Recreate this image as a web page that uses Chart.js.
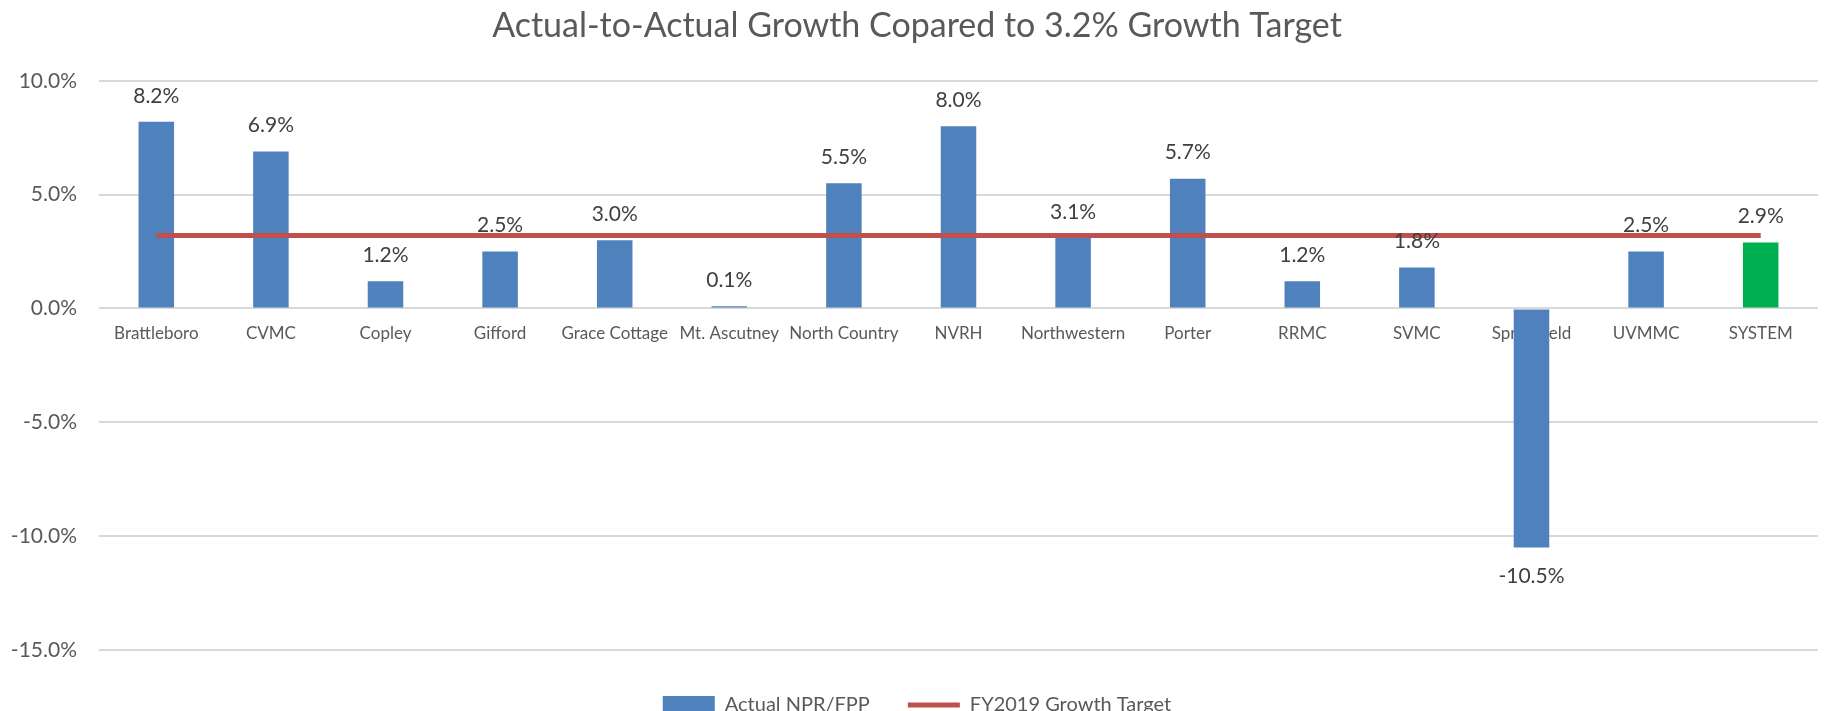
<!DOCTYPE html>
<html>
<head>
<meta charset="utf-8">
<script src="https://cdn.jsdelivr.net/npm/chart.js@4.4.0/dist/chart.umd.min.js"></script>
<style>
  html, body { margin: 0; padding: 0; background: #fff; overflow: hidden; }
  #wrap { width: 1826px; height: 711px; overflow: hidden; }
</style>
</head>
<body>
<div id="wrap"><canvas id="chart" width="1826" height="725"></canvas></div>
<script>
// hospitals on the x axis
const hospitals = ["Brattleboro", "CVMC", "Copley", "Gifford", "Grace Cottage", "Mt. Ascutney",
  "North Country", "NVRH", "Northwestern", "Porter", "RRMC", "SVMC", "Springfield", "UVMMC", "SYSTEM"];
// actual NPR/FPP growth, percent
const growth = [8.2, 6.9, 1.2, 2.5, 3.0, 0.1, 5.5, 8.0, 3.1, 5.7, 1.2, 1.8, -10.5, 2.5, 2.9];
// FY2019 target, percent
const target = [3.2, 3.2, 3.2, 3.2, 3.2, 3.2, 3.2, 3.2, 3.2, 3.2, 3.2, 3.2, 3.2, 3.2, 3.2];
const yTicks = [10, 5, 0, -5, -10, -15];

const BLUE = "#4f81bd";
const GREEN = "#00b050";
const RED = "#c0504d";
const TEXT = "#595959";
const FONT = "Lato, 'Open Sans', sans-serif";

const barColors = hospitals.map(h => h === "SYSTEM" ? GREEN : BLUE);

// value labels above (or below) each bar
const valueLabels = {
  id: "valueLabels",
  afterDatasetsDraw(chart) {
    const ctx = chart.ctx;
    const meta = chart.getDatasetMeta(0);
    ctx.save();
    ctx.font = "21px " + FONT;
    ctx.fillStyle = "#404040";
    ctx.textAlign = "center";
    ctx.textBaseline = "middle";
    meta.data.forEach((bar, i) => {
      const v = growth[i];
      const y = v >= 0 ? bar.y - 26 : bar.y + 29;
      ctx.fillText(v.toFixed(1) + "%", bar.x, y);
    });
    ctx.restore();
  },
};

// title and legend sit slightly right of the canvas centre in the original
const nudgeRight = {
  id: "nudgeRight",
  afterLayout(chart) {
    [chart.titleBlock, chart.legend].forEach(box => {
      if (!box) return;
      box.left += 8;
      box.right += 8;
    });
  },
};

const ctx = document.getElementById("chart").getContext("2d");
new Chart(ctx, {
  data: {
    labels: hospitals,
    datasets: [
      {
        type: "bar",
        label: "Actual NPR/FPP",
        data: growth,
        backgroundColor: barColors,
        categoryPercentage: 1,
        barPercentage: 0.31,
        order: 2,
      },
      {
        type: "line",
        label: "FY2019 Growth Target",
        data: target,
        borderColor: RED,
        backgroundColor: RED,
        borderWidth: 5,
        pointRadius: 0,
        order: 1,
      },
    ],
  },
  options: {
    responsive: false,
    animation: false,
    layout: { padding: { left: 0, right: 8, top: 0, bottom: 0 } },
    scales: {
      x: {
        position: { y: 0 },
        grid: { display: false },
        border: { display: false },
        ticks: { color: TEXT, font: { family: FONT, size: 17 }, padding: 7, maxRotation: 0, autoSkip: false },
      },
      y: {
        min: -15,
        max: 10,
        afterBuildTicks: scale => { scale.ticks = yTicks.map(v => ({ value: v })); },
        afterFit: scale => { scale.width = 99; },
        grid: { color: "#d9d9d9", lineWidth: 2, drawTicks: false },
        border: { display: false },
        ticks: {
          color: TEXT,
          font: { family: FONT, size: 21 },
          padding: 22,
          callback: v => v.toFixed(1) + "%",
        },
      },
    },
    plugins: {
      title: {
        display: true,
        text: "Actual-to-Actual Growth Copared to 3.2% Growth Target",
        color: TEXT,
        font: { family: FONT, size: 34, weight: "normal" },
        padding: { top: 6, bottom: 34 },
      },
      legend: {
        position: "bottom",
        title: { display: true, text: " ", font: { size: 5 }, padding: { top: 0, bottom: 1 } },
        labels: {
          color: TEXT,
          font: { family: FONT, size: 20 },
          usePointStyle: true,
          pointStyleWidth: 52,
          boxHeight: 18,
          padding: 38,
          sort: (a, b) => a.datasetIndex - b.datasetIndex,
          generateLabels: chart => chart.data.datasets.map((ds, i) => ({
            text: ds.label,
            datasetIndex: i,
            fillStyle: ds.type === "bar" ? BLUE : RED,
            strokeStyle: ds.type === "bar" ? BLUE : RED,
            lineWidth: ds.type === "bar" ? 0 : 5,
            pointStyle: ds.type === "bar" ? "rect" : "line",
            fontColor: TEXT,
          })),
        },
      },
      tooltip: { enabled: false },
    },
  },
  plugins: [valueLabels, nudgeRight],
});
</script>
</body>
</html>
